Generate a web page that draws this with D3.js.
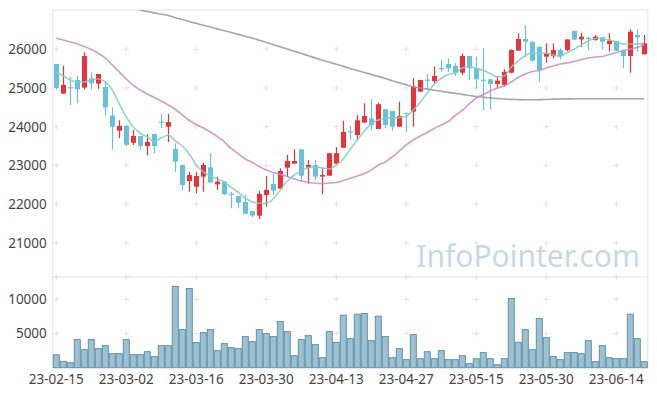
<!DOCTYPE html>
<html>
<head>
<meta charset="utf-8">
<script src="https://cdn.jsdelivr.net/npm/d3@7"></script>
<style>
  body { margin: 0; background: #fff; }
  text { font-family: "Noto Sans", sans-serif; }
</style>
</head>
<body>
<script>
// trading days shown on the chart
var dates = ["23-02-15","23-02-16","23-02-17","23-02-20","23-02-21","23-02-22","23-02-23","23-02-24","23-02-27","23-02-28",
  "23-03-02","23-03-03","23-03-06","23-03-07","23-03-08","23-03-09","23-03-10","23-03-13","23-03-14","23-03-15",
  "23-03-16","23-03-17","23-03-20","23-03-21","23-03-22","23-03-23","23-03-24","23-03-27","23-03-28","23-03-29",
  "23-03-30","23-03-31","23-04-03","23-04-04","23-04-05","23-04-06","23-04-07","23-04-10","23-04-11","23-04-12",
  "23-04-13","23-04-14","23-04-17","23-04-18","23-04-19","23-04-20","23-04-21","23-04-24","23-04-25","23-04-26",
  "23-04-27","23-04-28","23-05-02","23-05-03","23-05-04","23-05-08","23-05-09","23-05-10","23-05-11","23-05-12",
  "23-05-15","23-05-16","23-05-17","23-05-18","23-05-19","23-05-22","23-05-23","23-05-24","23-05-25","23-05-26",
  "23-05-30","23-05-31","23-06-01","23-06-02","23-06-05","23-06-07","23-06-08","23-06-09","23-06-12","23-06-13",
  "23-06-14","23-06-15","23-06-16","23-06-19","23-06-20"];

var open = [25620,24855,25020,25205,25010,25250,25115,25025,24285,23895,
  24020,23585,23760,23500,23810,24130,24000,23425,23010,22595,
  22450,22710,22950,22510,22580,22270,22210,22055,21820,21700,
  22235,22520,22400,22940,23045,23415,22940,23010,22710,22735,
  23045,23455,23880,23785,24105,24215,23940,24450,24405,24000,
  24355,24390,24905,25215,25180,25520,25620,25570,25395,25825,
  25510,25215,25225,25105,25080,25395,25965,26265,26195,26065,
  25810,25825,25980,25980,26475,26255,26295,26240,26310,26135,
  26215,25965,25825,26370,25870];
var high = [25620,25575,25290,25310,25920,25405,25360,25180,24500,24165,
  24050,23915,23760,23805,23810,24330,24330,23570,23010,22835,
  22835,23070,23315,22710,22590,22315,22210,22235,21820,22340,
  22725,22795,22925,23270,23415,23415,23140,23140,22950,23315,
  23470,24155,24020,24300,24605,24710,24620,24450,24405,24645,
  24365,25250,25210,25360,25550,25725,25765,25640,25895,25825,
  25810,26025,25225,25310,25485,26000,26415,26630,26195,26065,
  26155,26155,26025,26255,26475,26430,26325,26370,26310,26415,
  26215,25965,26515,26515,26370];
var low = [24975,24855,24560,24605,24965,24965,24975,24285,23415,23700,
  23500,23525,23400,23260,23315,23965,23600,22835,22365,22320,
  22280,22320,22555,22365,22235,21890,21890,21740,21660,21615,
  21935,22235,22400,22710,23045,22580,22520,22625,22255,22735,
  23045,23455,23655,23655,24105,23915,23940,23960,23895,24000,
  23870,24000,24905,24950,25120,25420,25420,25310,25335,25205,
  24990,24430,24450,24990,25035,25380,25965,25795,25680,25165,
  25655,25765,25740,25955,26240,26065,25980,26220,26000,25940,
  25965,25510,25395,25940,25870];
var close = [25000,25080,25010,24965,25825,25120,25360,24495,24000,24020,
  23535,23760,23500,23605,23500,24110,24120,23095,22495,22750,
  22725,23010,22555,22580,22255,22255,22035,21750,21700,22260,
  22365,22345,22855,23115,23115,22735,23010,22710,22750,23315,
  23315,23865,23865,24165,24275,24045,24580,24045,24000,24275,
  24340,25035,25205,25200,25310,25505,25510,25395,25825,25510,
  25225,25200,25105,25190,25420,25980,26265,26195,25705,25465,
  25895,25980,25825,26255,26255,26325,26275,26325,26195,26220,
  25965,25825,26455,26310,26155];
var volume = [1900,930,740,4120,2650,4120,2790,3230,2060,2060,
  4120,1910,1910,2350,1620,3230,3230,11910,5590,11610,
  3680,5150,5590,2500,3530,2940,2790,4560,3820,5590,
  5000,4560,6760,5290,1760,4120,4700,3380,1470,5290,
  3720,7690,4260,7840,7940,3970,7550,4560,1470,2790,
  1180,4850,1320,2350,1320,2500,1180,1180,1760,590,
  1320,2210,1320,440,1320,10140,3720,5590,2650,7200,
  4410,1620,1180,2210,2210,2060,3970,880,3230,1470,
  1320,1320,7840,4260,880];

// moving averages
var ma5 = [25413,25310,25207,25155,25155,25220,25233,25155,24948,24587,
  24251,23992,23830,23734,23618,23708,23786,23631,23501,23295,
  23010,22830,22726,22649,22571,22429,22300,22158,22054,22021,
  22029,22132,22364,22597,22752,22855,22946,22967,22933,22907,
  23010,23165,23424,23656,23889,24070,24173,24212,24225,24238,
  24264,24432,24638,24871,25103,25251,25349,25388,25517,25556,
  25504,25452,25375,25284,25310,25543,25698,25840,25904,25904,
  25897,25853,25814,25917,26008,26111,26215,26279,26279,26240,
  26196,26137,26137,26137,26150];
var ma20 = [26284,26240,26189,26137,26072,25995,25897,25775,25594,25413,
  25233,25065,24948,24845,24755,24664,24561,24444,24302,24160,
  24057,23966,23863,23742,23605,23437,23295,23165,23075,22972,
  22881,22817,22765,22713,22649,22597,22563,22538,22532,22545,
  22558,22610,22667,22726,22791,22881,23010,23088,23217,23372,
  23527,23656,23760,23850,23954,24044,24134,24289,24419,24587,
  24742,24832,24923,25000,25052,25155,25271,25362,25426,25452,
  25517,25569,25620,25646,25685,25737,25775,25801,25814,25866,
  25917,25969,26008,26047,26111];
var ma60 = [null,null,null,null,null,null,null,null,null,null,
  27103,27059,27016,26974,26941,26907,26873,26817,26767,26718,
  26669,26623,26576,26527,26478,26432,26385,26339,26292,26233,
  26176,26119,26062,26005,25948,25891,25835,25775,25718,25664,
  25612,25558,25506,25452,25400,25351,25300,25243,25189,25132,
  25085,25026,25000,24972,24943,24915,24886,24860,24835,24806,
  24780,24760,24744,24729,24716,24705,24700,24695,24695,24698,
  24703,24711,24716,24719,24720,24720,24720,24720,24720,24720,
  24720,24720,24720,24720,24720];

var priceTicks = [21000, 22000, 23000, 24000, 25000, 26000];
var volTicks = [5000, 10000];
var dateTicks = dates.filter(function (d, i) { return i % 10 === 0; });

var width = 657, height = 396;
var left = 52.8, right = 647.8;
var mainTop = 10, mainBottom = 277, volTop = 277.3, volBottom = 367.7;

var svg = d3.select("body").append("svg")
  .attr("width", width)
  .attr("height", height);

var x = d3.scaleBand().domain(dates).range([left, right]).padding(0);
var y = d3.scaleLinear().domain([20116, 27015]).range([mainBottom, mainTop]);
var yv = d3.scaleLinear().domain([0, 13250]).range([volBottom, volTop]);
var cx = function (d) { return x(d) + x.bandwidth() / 2; };

svg.append("clipPath").attr("id", "mainclip")
  .append("rect").attr("x", left).attr("y", mainTop)
  .attr("width", right - left).attr("height", mainBottom - mainTop);

// watermark
svg.append("text")
  .attr("x", 640).attr("y", 267)
  .attr("text-anchor", "end")
  .style("font-size", "30px")
  .style("fill", "#c9d9e4")
  .text("InfoPointer.com");

// frame
var frame = svg.append("g").style("stroke", "#e3e3e3").style("fill", "none");
frame.append("path").attr("d", "M" + left + "," + volBottom + "V" + mainTop + "H" + right + "V" + volBottom);
frame.append("line").attr("x1", left).attr("x2", right).attr("y1", mainBottom).attr("y2", mainBottom);

// little cross marks at grid points
var crosses = [];
dateTicks.forEach(function (d) {
  priceTicks.forEach(function (p) { crosses.push([cx(d), y(p)]); });
  volTicks.forEach(function (v) { crosses.push([cx(d), yv(v)]); });
  crosses.push([cx(d), mainBottom]);
});
svg.append("g").selectAll("path").data(crosses).enter().append("path")
  .attr("d", function (c) { return "M" + (c[0] - 3) + "," + c[1] + "h6M" + c[0] + "," + (c[1] - 3) + "v6"; })
  .style("stroke", "#e3e3e3");

// axes labels
var yAxis = d3.axisLeft(y).tickValues(priceTicks).tickSize(0).tickPadding(6).tickFormat(d3.format("d"));
var gy = svg.append("g").attr("transform", "translate(" + left + ",0)").call(yAxis);
var vAxis = d3.axisLeft(yv).tickValues(volTicks).tickSize(0).tickPadding(6).tickFormat(d3.format("d"));
var gv = svg.append("g").attr("transform", "translate(" + left + ",0)").call(vAxis);
var xAxis = d3.axisBottom(x).tickValues(dateTicks).tickSize(0).tickPadding(7);
var gx = svg.append("g").attr("transform", "translate(0," + volBottom + ")").call(xAxis);
[gy, gv, gx].forEach(function (g) {
  g.select(".domain").remove();
  g.selectAll("text").style("font-size", "13.5px").style("fill", "#444");
});

// volume bars
svg.append("g").selectAll("rect").data(volume).enter().append("rect")
  .attr("x", function (v, i) { return x(dates[i]) + 0.5; })
  .attr("y", function (v) { return yv(v); })
  .attr("width", x.bandwidth() - 1)
  .attr("height", function (v) { return yv(0) - yv(v); })
  .style("fill", "#9dc1d1")
  .style("stroke", "#5f93ab")
  .style("stroke-width", 1);

// candles
var up = "#ec3137", down = "#68c1db";
var candles = svg.append("g").selectAll("g").data(dates).enter().append("g");
candles.append("line")
  .attr("x1", function (d) { return Math.round(cx(d)) + 0.5; })
  .attr("x2", function (d) { return Math.round(cx(d)) + 0.5; })
  .attr("y1", function (d, i) { return y(high[i]); })
  .attr("y2", function (d, i) { return y(low[i]); })
  .style("stroke", function (d, i) { return close[i] >= open[i] ? up : down; })
  .style("stroke-width", 1.2);
candles.append("rect")
  .attr("x", function (d) { return Math.round(cx(d)) - 2; })
  .attr("width", 5)
  .attr("y", function (d, i) { return y(Math.max(open[i], close[i])); })
  .attr("height", function (d, i) { return Math.max(1.2, Math.abs(y(open[i]) - y(close[i]))); })
  .style("fill", function (d, i) { return close[i] >= open[i] ? up : down; });

// moving average lines
function maLine(values, color) {
  var line = d3.line()
    .defined(function (v) { return v !== null; })
    .x(function (v, i) { return cx(dates[i]); })
    .y(function (v) { return y(v); })
    .curve(d3.curveMonotoneX);
  svg.append("path").datum(values)
    .attr("clip-path", "url(#mainclip)")
    .attr("d", line)
    .style("fill", "none")
    .style("stroke", color)
    .style("stroke-width", 1.6)
    .style("stroke-opacity", 0.85);
}
maLine(ma60, "#979797");
maLine(ma20, "#c88bc6");
maLine(ma5, "#86cbc2");
</script>
</body>
</html>
